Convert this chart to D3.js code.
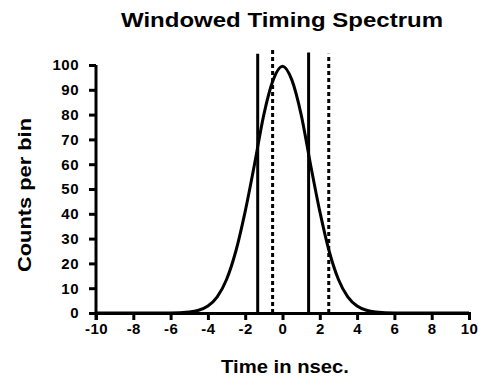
<!DOCTYPE html>
<html>
<head>
<meta charset="utf-8">
<script src="https://cdn.jsdelivr.net/npm/d3@7"></script>
<style>
  body { margin: 0; background: #fff; }
  text { font-family: "Liberation Sans", Arial, sans-serif; font-weight: bold; fill: #000; }
</style>
</head>
<body>
<div id="chart"></div>
<script>
// timing spectrum
const timeNs = [-10, -6, -5, -4.5, -4, -3.5, -3, -2.5, -2, -1.5, -1, -0.5, 0, 0.5, 1, 1.5, 2, 2.5, 3, 3.5, 4, 4.5, 5, 6, 10];
const counts = [0, 0, 0.4, 1.1, 2.8, 6.5, 13.5, 25, 41, 60, 80, 94, 99.5, 94, 80, 60, 41, 25, 13.5, 6.5, 2.8, 1.1, 0.4, 0, 0];

// window markers
const solidWindowX = [-1.33, 1.4];
const solidWindowTop = [104.5, 105];
const dashedWindowX = [-0.53, 2.48];
const dashedWindowTop = [106.5, 104.5];

const xTicks = [-10, -8, -6, -4, -2, 0, 2, 4, 6, 8, 10];
const yTicks = [0, 10, 20, 30, 40, 50, 60, 70, 80, 90, 100];

const width = 487, height = 380;
const margin = {left: 96, right: 18, top: 65, bottom: 67};

const svg = d3.select("#chart").append("svg")
  .attr("width", width)
  .attr("height", height);

const x = d3.scaleLinear().domain([-10, 10]).range([margin.left, width - margin.right]);
const y = d3.scaleLinear().domain([0, 100]).range([height - margin.bottom, margin.top]);

// axes (plain hyphen for negatives, like the original)
const fmt = d => String(d);

const xAxis = svg.append("g")
  .attr("transform", `translate(0,${y(0)})`)
  .call(d3.axisBottom(x).tickValues(xTicks).tickFormat(fmt).tickSizeOuter(0).tickSize(7).tickPadding(3));

const yAxis = svg.append("g")
  .attr("transform", `translate(${x(-10)},0)`)
  .call(d3.axisLeft(y).tickValues(yTicks).tickFormat(fmt).tickSizeOuter(0).tickSize(7).tickPadding(10));

[xAxis, yAxis].forEach(a => {
  a.attr("font-family", null).attr("font-size", null);
  a.select(".domain").attr("stroke", "#000").attr("stroke-width", 3);
  a.selectAll(".tick line").attr("stroke", "#000").attr("stroke-width", 3);
  a.selectAll(".tick text")
    .style("font-size", "15px")
    .style("letter-spacing", "0.5px");
});
// the y axis runs down to the end of the x ticks
yAxis.select(".domain").attr("d", `M0,${y(100)}V${y(0) + 7}`);

// curve
const line = d3.line()
  .x((d, i) => x(timeNs[i]))
  .y(d => y(d))
  .curve(d3.curveMonotoneX);

svg.append("path")
  .datum(counts)
  .attr("fill", "none")
  .attr("stroke", "#000")
  .attr("stroke-width", 3)
  .attr("d", line);

// window lines
svg.append("g").selectAll("line")
  .data(solidWindowX)
  .join("line")
  .attr("x1", d => x(d)).attr("x2", d => x(d))
  .attr("y1", y(0)).attr("y2", (d, i) => y(solidWindowTop[i]))
  .attr("stroke", "#000")
  .attr("stroke-width", 3);

svg.append("g").selectAll("line")
  .data(dashedWindowX)
  .join("line")
  .attr("x1", d => x(d)).attr("x2", d => x(d))
  .attr("y1", y(0)).attr("y2", (d, i) => y(dashedWindowTop[i]))
  .attr("stroke", "#000")
  .attr("stroke-width", 3)
  .attr("stroke-dasharray", "4,3");

// labels
svg.append("text")
  .attr("x", 282).attr("y", 27)
  .attr("text-anchor", "middle")
  .attr("textLength", 322)
  .attr("lengthAdjust", "spacingAndGlyphs")
  .style("font-size", "21px")
  .text("Windowed Timing Spectrum");

svg.append("text")
  .attr("x", 285).attr("y", 373)
  .attr("text-anchor", "middle")
  .attr("textLength", 128)
  .attr("lengthAdjust", "spacingAndGlyphs")
  .style("font-size", "19px")
  .text("Time in nsec.");

svg.append("text")
  .attr("transform", "translate(31,195) rotate(-90)")
  .attr("text-anchor", "middle")
  .attr("textLength", 154)
  .attr("lengthAdjust", "spacingAndGlyphs")
  .style("font-size", "19px")
  .text("Counts per bin");
</script>
</body>
</html>
